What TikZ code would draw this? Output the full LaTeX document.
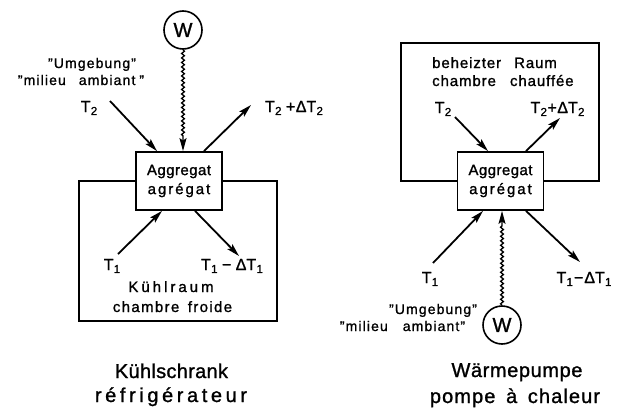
\documentclass[tikz,border=0pt]{standalone}
\usepackage{fontspec}
\setmainfont{Liberation Sans}[FakeBold=1.2]
\usetikzlibrary{arrows.meta,decorations.pathmorphing,calc}
\newcommand{\LS}[2]{{\addfontfeature{LetterSpace=#1}#2}}
\newcommand{\Tx}[1]{T\kern0.3pt\raisebox{-0.35ex}{\fontsize{11.5}{11.5}\selectfont #1}}
\begin{document}
\begin{tikzpicture}[x=1pt,y=-1pt,
  arr/.style={line width=1.8pt,-{Stealth[length=13pt,width=7pt,inset=2.5pt]}},
  wavy/.style={line width=1.3pt,-{Stealth[length=13pt,width=7pt,inset=2.5pt]},decorate,decoration={snake,amplitude=1.4pt,segment length=4.5pt,post length=13pt}},
  room/.style={draw,line width=1.8pt,rectangle,inner sep=0pt},
  unit/.style={draw,fill=white,line width=1.8pt,minimum width=86pt,minimum height=58pt,inner sep=0pt,align=center,font=\fontsize{15}{19}\selectfont},
  wnode/.style={draw,circle,line width=1.6pt,minimum size=38pt,inner sep=0pt,font=\fontsize{20}{20}\selectfont},
  txt/.style={anchor=base,inner sep=0pt},
  tlab/.style={txt,font=\fontsize{16}{16}\selectfont},
  small/.style={txt,font=\fontsize{14}{14}\selectfont},
  mid/.style={txt,font=\fontsize{15}{15}\selectfont},
  big/.style={txt,font=\fontsize{20}{20}\selectfont}]
\useasboundingbox (0,0) rectangle (626,407);

% ---------- left: Kühlschrank ----------
\node[room,minimum width=198pt,minimum height=140pt] (Rl) at (178,251) {};
\node[unit] (Al) at (179,181) {\LS{3}{Aggregat}\\\LS{13}{agrégat}};
\node[wnode] (Wl) at (183,30) {W};
\draw[wavy] (Wl.south) -- (Wl.south |- Al.north);

\node[small] (lu1) at (92,68) {\LS{8}{"Umgebung"}};
\node[small] (lu2) at (81,85) {\LS{8}{"milieu\hspace{8pt} ambiant\hspace{4pt}"}};
\node[tlab] (lt2) at (89,112) {\Tx{2}};
\node[tlab] (lt2d) at (294,112) {\Tx{2} +\kern0.5pt Δ\Tx{2}};
\node[tlab] (lt1) at (112,270) {\Tx{1}};
\node[tlab] (lt1d) at (232,270) {\Tx{1} − Δ\Tx{1}};
\node[mid] (lk1) at (171,292) {\LS{20}{Kühlraum}};
\node[mid] (lk2) at (172.5,312) {\LS{9}{chambre\hspace{3pt} froide}};
\node[big] (lti1) at (171.5,378) {\LS{1.5}{Kühlschrank}};
\node[big] (lti2) at (171,402) {\LS{18}{réfrigérateur}};

\coordinate (la) at (110,101);
\coordinate (lb) at (251,105);
\coordinate (lc) at (118,254);
\coordinate (ld) at (239,256);
\draw[arr] (la) -- ([xshift=-22pt]Al.north);
\draw[arr] ([xshift=25pt]Al.north) -- (lb);
\draw[arr] (lc) -- ([xshift=-17pt]Al.south);
\draw[arr] ([xshift=16pt]Al.south) -- (ld);

% ---------- right: Wärmepumpe ----------
\node[room,minimum width=198pt,minimum height=138pt] (Rr) at (500,112) {};
\node[unit] (Ar) at (500.5,181) {\LS{3}{Aggregat}\\\LS{13}{agrégat}};
\node[wnode] (Wr) at (502,325) {W};
\draw[wavy] (Wr.north) -- (Wr.north |- Ar.south);

\node[mid,anchor=base west] (rr1) at (432,68) {\LS{6}{beheizter\hspace{8pt} Raum}};
\node[mid,anchor=base west] (rr2) at (432,86) {\LS{6}{chambre\hspace{9pt} chauffée}};
\node[tlab] (rt2) at (443,113) {\Tx{2}};
\node[tlab] (rt2d) at (557.5,113) {\Tx{2}\kern0.5pt+\kern0.5pt Δ\Tx{2}};
\node[tlab] (rt1) at (430,283) {\Tx{1}};
\node[tlab] (rt1d) at (584,283) {\Tx{1}\kern1pt−\kern1pt Δ\Tx{1}};
\node[small] (ru1) at (433,314) {\LS{8}{"Umgebung"}};
\node[small] (ru2) at (402.5,331) {\LS{8}{"milieu\hspace{10pt} ambiant"}};
\node[big] (rti1) at (517,377) {\LS{3}{Wärmepumpe}};
\node[big] (rti2) at (515,403) {\LS{5.5}{pompe\hspace{4pt} à\hspace{4pt} chaleur}};

\coordinate (ra) at (455,117);
\coordinate (rb) at (560,118);
\coordinate (rc) at (433,263);
\coordinate (rd) at (580,262);
\draw[arr] (ra) -- ([xshift=-12.5pt]Ar.north);
\draw[arr] ([xshift=25.5pt]Ar.north) -- (rb);
\draw[arr] (rc) -- ([xshift=-17.5pt]Ar.south);
\draw[arr] ([xshift=25.5pt]Ar.south) -- (rd);
\end{tikzpicture}
\end{document}
